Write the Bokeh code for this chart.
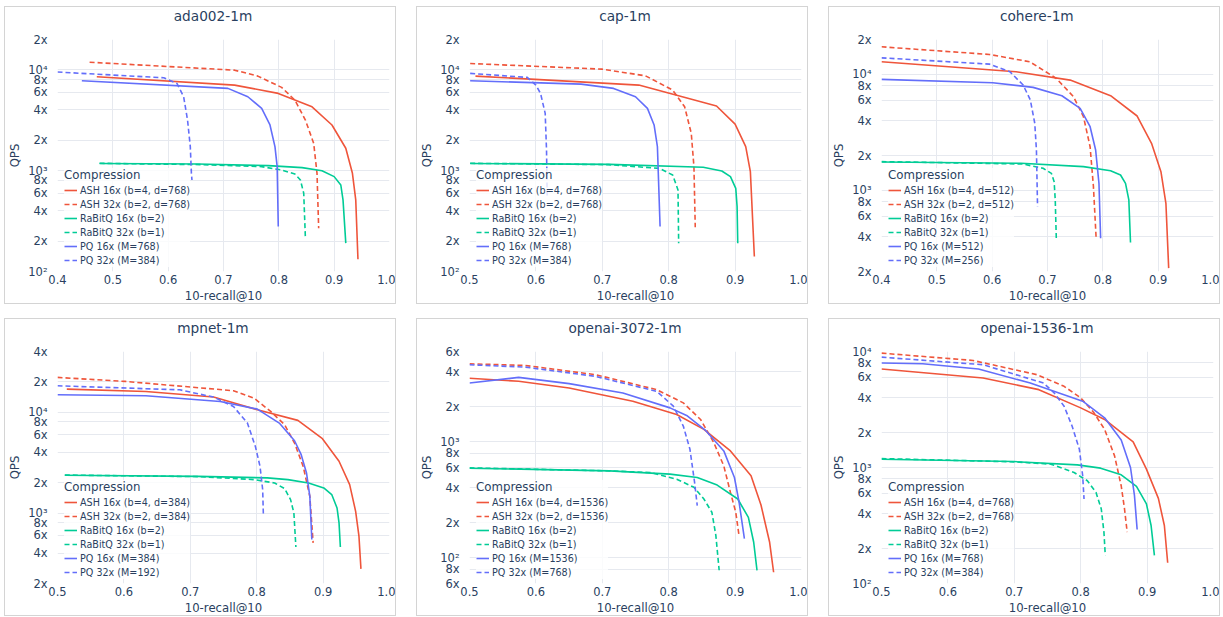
from bokeh.plotting import figure
from bokeh.layouts import row, column
from bokeh.models import Range1d, FixedTicker, CustomJSTickFormatter, PrintfTickFormatter, Title
from bokeh.embed import file_html
from bokeh.resources import INLINE

# ---------------- data ----------------
ADA_ASH16_X = [0.471, 0.72, 0.799, 0.86, 0.896, 0.921, 0.933, 0.939, 0.943]
ADA_ASH16_Y = [8530, 7060, 5840, 4300, 2840, 1670, 942, 513, 132]
ADA_ASH32_X = [0.458, 0.72, 0.762, 0.805, 0.829, 0.848, 0.863, 0.869, 0.872]
ADA_ASH32_Y = [11900, 9930, 8670, 6700, 5010, 3180, 1868, 942, 268]
ADA_RBQ16_X = [0.476, 0.653, 0.781, 0.842, 0.878, 0.9, 0.912, 0.916, 0.921]
ADA_RBQ16_Y = [1180, 1164, 1122, 1072, 1000, 873, 721, 513, 191]
ADA_RBQ32_X = [0.476, 0.659, 0.769, 0.805, 0.829, 0.839, 0.845, 0.848]
ADA_RBQ32_Y = [1183, 1148, 1097, 1016, 927, 809, 597, 214]
ADA_PQ16_X = [0.444, 0.708, 0.744, 0.769, 0.784, 0.793, 0.797, 0.799]
ADA_PQ16_Y = [7800, 6550, 5410, 4150, 2840, 1730, 1097, 279]
ADA_PQ32_X = [0.4, 0.592, 0.616, 0.628, 0.635, 0.64, 0.642, 0.643]
ADA_PQ32_Y = [9510, 8340, 7320, 5410, 3180, 1730, 942, 809]

CAP_ASH16_X = [0.509, 0.755, 0.872, 0.9, 0.916, 0.923, 0.929]
CAP_ASH16_Y = [8670, 7060, 4380, 2900, 1730, 978, 141]
CAP_ASH32_X = [0.501, 0.699, 0.765, 0.806, 0.824, 0.834, 0.838, 0.84]
CAP_ASH32_Y = [11560, 10170, 8730, 6300, 4300, 2345, 1097, 275]
CAP_RBQ16_X = [0.501, 0.711, 0.852, 0.88, 0.893, 0.901, 0.903, 0.904]
CAP_RBQ16_Y = [1180, 1156, 1080, 993, 873, 668, 440, 191]
CAP_RBQ32_X = [0.501, 0.709, 0.786, 0.806, 0.814, 0.815]
CAP_RBQ32_Y = [1183, 1148, 1054, 906, 644, 191]
CAP_PQ16_X = [0.501, 0.668, 0.717, 0.75, 0.768, 0.778, 0.783, 0.787]
CAP_PQ16_Y = [7800, 7220, 6550, 5410, 4150, 2840, 1730, 279]
CAP_PQ32_X = [0.501, 0.587, 0.6, 0.607, 0.614, 0.616, 0.617]
CAP_PQ32_Y = [9220, 8420, 7060, 5840, 3700, 1603, 553]

COH_ASH16_X = [0.4, 0.643, 0.741, 0.814, 0.862, 0.888, 0.905, 0.914, 0.919]
COH_ASH16_Y = [12850, 10550, 8930, 6550, 4380, 2550, 1452, 774, 214]
COH_ASH32_X = [0.4, 0.595, 0.668, 0.716, 0.747, 0.765, 0.777, 0.783, 0.788]
COH_ASH32_Y = [17300, 14860, 12850, 9230, 6430, 4320, 2380, 1080, 379]
COH_RBQ16_X = [0.4, 0.652, 0.765, 0.814, 0.832, 0.841, 0.847, 0.85]
COH_RBQ16_Y = [1760, 1714, 1603, 1480, 1358, 1151, 828, 356]
COH_RBQ32_X = [0.4, 0.655, 0.692, 0.707, 0.712, 0.714, 0.716]
COH_RBQ32_Y = [1771, 1690, 1552, 1404, 1190, 828, 370]
COH_PQ16_X = [0.4, 0.601, 0.674, 0.726, 0.759, 0.777, 0.787, 0.793, 0.796]
COH_PQ16_Y = [9060, 8480, 7730, 6550, 5100, 3540, 2230, 1151, 387]
COH_PQ32_X = [0.4, 0.595, 0.632, 0.656, 0.669, 0.677, 0.68, 0.682]
COH_PQ32_Y = [13900, 12270, 10550, 8100, 6010, 3790, 2230, 726]

MPN_ASH16_X = [0.514, 0.633, 0.735, 0.801, 0.862, 0.899, 0.924, 0.94, 0.949, 0.954, 0.957]
MPN_ASH16_Y = [16940, 16070, 14130, 10560, 8300, 5460, 3260, 1914, 1040, 589, 279]
MPN_ASH32_X = [0.5, 0.602, 0.765, 0.796, 0.821, 0.842, 0.857, 0.87, 0.88, 0.885]
MPN_ASH32_Y = [22130, 20200, 16330, 13800, 10180, 7520, 4940, 2900, 1466, 506]
MPN_RBQ16_X = [0.511, 0.712, 0.816, 0.847, 0.878, 0.901, 0.913, 0.921, 0.924, 0.926]
MPN_RBQ16_Y = [2370, 2310, 2230, 2145, 1985, 1773, 1524, 1122, 798, 461]
MPN_RBQ32_X = [0.511, 0.714, 0.796, 0.827, 0.842, 0.851, 0.856, 0.859]
MPN_RBQ32_Y = [2380, 2295, 2145, 1985, 1746, 1358, 1002, 461]
MPN_PQ16_X = [0.5, 0.633, 0.745, 0.801, 0.834, 0.857, 0.867, 0.875, 0.88, 0.883]
MPN_PQ16_Y = [14890, 14560, 12790, 10730, 7800, 5210, 3790, 2500, 1466, 546]
MPN_PQ32_X = [0.5, 0.684, 0.735, 0.765, 0.786, 0.798, 0.805, 0.809, 0.81]
MPN_PQ32_Y = [18280, 16680, 14130, 11400, 7800, 4580, 2900, 1706, 986]

O3K_ASH16_X = [0.5, 0.574, 0.65, 0.746, 0.812, 0.853, 0.893, 0.924, 0.939, 0.952, 0.958]
O3K_ASH16_Y = [3525, 3320, 2910, 2235, 1718, 1279, 834, 509, 285, 136, 75]
O3K_ASH32_X = [0.5, 0.584, 0.69, 0.782, 0.822, 0.848, 0.868, 0.883, 0.893, 0.901, 0.906]
O3K_ASH32_Y = [4700, 4550, 3785, 2812, 2163, 1556, 981, 619, 366, 247, 154]
O3K_RBQ16_X = [0.5, 0.711, 0.802, 0.843, 0.873, 0.904, 0.92, 0.928, 0.933]
O3K_RBQ16_Y = [592, 561, 526, 492, 423, 321, 223, 136, 78]
O3K_RBQ32_X = [0.5, 0.711, 0.772, 0.812, 0.838, 0.853, 0.865, 0.871, 0.876]
O3K_RBQ32_Y = [596, 561, 543, 476, 405, 321, 247, 156, 78]
O3K_PQ16_X = [0.5, 0.574, 0.65, 0.731, 0.802, 0.827, 0.855, 0.883, 0.899, 0.906, 0.914]
O3K_PQ16_Y = [3213, 3590, 3170, 2636, 1960, 1686, 1262, 834, 492, 301, 146]
O3K_PQ32_X = [0.5, 0.584, 0.69, 0.782, 0.807, 0.822, 0.832, 0.839, 0.843]
O3K_PQ32_Y = [4610, 4400, 3660, 2722, 2028, 1365, 861, 446, 281]

O15_ASH16_X = [0.5, 0.653, 0.737, 0.8, 0.836, 0.879, 0.899, 0.917, 0.926, 0.931]
O15_ASH16_Y = [7060, 5905, 4690, 3266, 2596, 1660, 968, 542, 316, 151]
O15_ASH32_X = [0.5, 0.638, 0.734, 0.775, 0.8, 0.82, 0.836, 0.851, 0.861, 0.866, 0.87]
O15_ASH32_Y = [9680, 8370, 6310, 5010, 3980, 2960, 2130, 1259, 696, 439, 277]
O15_RBQ16_X = [0.5, 0.699, 0.795, 0.83, 0.861, 0.884, 0.899, 0.906, 0.911]
O15_RBQ16_Y = [1179, 1125, 1054, 987, 865, 687, 485, 316, 175]
O15_RBQ32_X = [0.5, 0.699, 0.755, 0.79, 0.81, 0.823, 0.831, 0.835, 0.837]
O15_RBQ32_Y = [1194, 1119, 1069, 906, 769, 611, 439, 277, 175]
O15_PQ16_X = [0.5, 0.562, 0.646, 0.724, 0.803, 0.836, 0.861, 0.875, 0.881, 0.885]
O15_PQ16_Y = [7950, 7840, 7060, 5350, 3728, 2683, 1726, 1000, 571, 292]
O15_PQ32_X = [0.5, 0.653, 0.744, 0.76, 0.775, 0.787, 0.798, 0.803, 0.805]
O15_PQ32_Y = [8940, 7690, 5350, 4400, 3378, 2276, 1436, 849, 535]

TITLES = ["ada002-1m", "cap-1m", "cohere-1m", "mpnet-1m", "openai-3072-1m", "openai-1536-1m"]

LABELS_768 = ["ASH 16x (b=4, d=768)", "ASH 32x (b=2, d=768)", "RaBitQ 16x (b=2)",
              "RaBitQ 32x (b=1)", "PQ 16x (M=768)", "PQ 32x (M=384)"]
LABELS_512 = ["ASH 16x (b=4, d=512)", "ASH 32x (b=2, d=512)", "RaBitQ 16x (b=2)",
              "RaBitQ 32x (b=1)", "PQ 16x (M=512)", "PQ 32x (M=256)"]
LABELS_384 = ["ASH 16x (b=4, d=384)", "ASH 32x (b=2, d=384)", "RaBitQ 16x (b=2)",
              "RaBitQ 32x (b=1)", "PQ 16x (M=384)", "PQ 32x (M=192)"]
LABELS_1536 = ["ASH 16x (b=4, d=1536)", "ASH 32x (b=2, d=1536)", "RaBitQ 16x (b=2)",
               "RaBitQ 32x (b=1)", "PQ 16x (M=1536)", "PQ 32x (M=768)"]

X_TICKS_04 = [0.4, 0.5, 0.6, 0.7, 0.8, 0.9, 1.0]
X_TICKS_05 = [0.5, 0.6, 0.7, 0.8, 0.9, 1.0]
Y_TICKS_ADA = [100, 200, 400, 600, 800, 1000, 2000, 4000, 6000, 8000, 10000, 20000]
Y_TICKS_COH = [200, 400, 600, 800, 1000, 2000, 4000, 6000, 8000, 10000, 20000]
Y_TICKS_MPN = [200, 400, 600, 800, 1000, 2000, 4000, 6000, 8000, 10000, 20000, 40000]
Y_TICKS_O3K = [60, 80, 100, 200, 400, 600, 800, 1000, 2000, 4000, 6000]
Y_TICKS_O15 = [100, 200, 400, 600, 800, 1000, 2000, 4000, 6000, 8000, 10000]

X_RANGES = [(0.4, 1.0), (0.5, 1.0), (0.4, 1.0), (0.5, 1.0), (0.5, 1.0), (0.5, 1.0)]
Y_RANGES = [(100, 20000), (100, 20000), (200, 20000), (200, 40000), (60, 6000), (100, 10000)]

# ---------------- style ----------------
FONT = "DejaVu Sans"
TXT = "#2a3f5f"
GRID = "#e6e9ef"
STYLES = [("#EF553B", "solid"), ("#EF553B", "5 3"), ("#00CC96", "solid"),
          ("#00CC96", "5 3"), ("#636EFA", "solid"), ("#636EFA", "5 3")]

FIG_W, FIG_H = 392, 298
TITLE_PX = 13.7
# approximate DejaVu Sans advance widths (em) used to place titles
ADV = {"a": .613, "d": .635, "c": .55, "p": .635, "o": .612, "h": .634, "e": .615,
       "r": .411, "m": .974, "n": .634, "t": .392, "i": .278, "-": .361}

LOG_FMT = CustomJSTickFormatter(code="""
const sup = {"1":"\u00b9","2":"\u00b2","3":"\u00b3","4":"\u2074","5":"\u2075"};
const e = Math.floor(Math.log10(tick) + 1e-9);
const m = Math.round(tick / Math.pow(10, e));
if (m === 1) { return "10" + sup[String(e)]; }
return m + "x";
""")


def text_w(s, size):
    return sum(ADV.get(ch, 0.636) for ch in s) * size


def make_panel(title, xr, yr, xticks, yticks, series, labels):
    p = figure(width=FIG_W, height=FIG_H, y_axis_type="log", title=None,
               x_range=Range1d(*xr), y_range=Range1d(*yr),
               output_backend="svg", toolbar_location=None,
               min_border_left=47, min_border_right=8,
               min_border_top=32, min_border_bottom=31)
    p.styles = {"border": "1px solid #d4d4d4"}
    p.outline_line_color = None
    p.background_fill_color = "white"

    # spacer (nearest the frame) + real title above it
    p.add_layout(Title(text=" ", text_font_size="2px", standoff=10), "above")
    p.add_layout(Title(text=title, align="left", vertical_align="top", standoff=0,
                       offset=155.5 - text_w(title, TITLE_PX) / 2,
                       text_font=FONT, text_font_size=f"{TITLE_PX}px",
                       text_font_style="normal", text_color=TXT), "above")

    for (xs, ys), (col, dash), lab in zip(series, STYLES, labels):
        p.line(xs, ys, line_color=col, line_dash=dash, line_width=1.6, legend_label=lab)

    p.xaxis.ticker = FixedTicker(ticks=xticks)
    p.xgrid.ticker = FixedTicker(ticks=xticks)
    p.xaxis.formatter = PrintfTickFormatter(format="%.1f")
    p.yaxis.ticker = FixedTicker(ticks=yticks)
    p.ygrid.ticker = FixedTicker(ticks=yticks)
    p.yaxis.formatter = LOG_FMT
    p.xaxis.axis_label = "10-recall@10"
    p.yaxis.axis_label = "QPS"
    for ax in (p.xaxis[0], p.yaxis[0]):
        ax.axis_line_color = None
        ax.major_tick_line_color = None
        ax.minor_tick_line_color = None
        ax.major_tick_out = 0
        ax.major_tick_in = 0
        ax.minor_tick_out = 0
        ax.minor_tick_in = 0
        ax.major_label_text_font = FONT
        ax.major_label_text_font_size = "11.5px"
        ax.major_label_text_color = TXT
        ax.axis_label_text_font = FONT
        ax.axis_label_text_font_size = "11.7px"
        ax.axis_label_text_font_style = "normal"
        ax.axis_label_text_color = TXT
    p.xaxis.major_label_standoff = 3
    p.xaxis.axis_label_standoff = 2
    p.yaxis.major_label_standoff = 10
    p.yaxis.axis_label_standoff = 3
    for g in (p.xgrid[0], p.ygrid[0]):
        g.grid_line_color = GRID
        g.grid_line_width = 1

    lg = p.legend[0]
    lg.location = (7, 4)
    lg.title = "Compression"
    lg.title_text_font = FONT
    lg.title_text_font_size = "11.8px"
    lg.title_text_font_style = "normal"
    lg.title_text_color = TXT
    lg.title_standoff = 1
    lg.label_text_font = FONT
    lg.label_text_font_size = "9.6px"
    lg.label_text_color = TXT
    lg.glyph_width = 13
    lg.glyph_height = 14
    lg.label_height = 14
    lg.label_standoff = 3
    lg.spacing = 0
    lg.padding = 5
    lg.margin = 0
    lg.border_line_color = None
    lg.background_fill_color = "white"
    lg.background_fill_alpha = 0.8
    return p


PANELS = [
    (TITLES[0], X_RANGES[0], Y_RANGES[0], X_TICKS_04, Y_TICKS_ADA,
     [(ADA_ASH16_X, ADA_ASH16_Y), (ADA_ASH32_X, ADA_ASH32_Y), (ADA_RBQ16_X, ADA_RBQ16_Y),
      (ADA_RBQ32_X, ADA_RBQ32_Y), (ADA_PQ16_X, ADA_PQ16_Y), (ADA_PQ32_X, ADA_PQ32_Y)], LABELS_768),
    (TITLES[1], X_RANGES[1], Y_RANGES[1], X_TICKS_05, Y_TICKS_ADA,
     [(CAP_ASH16_X, CAP_ASH16_Y), (CAP_ASH32_X, CAP_ASH32_Y), (CAP_RBQ16_X, CAP_RBQ16_Y),
      (CAP_RBQ32_X, CAP_RBQ32_Y), (CAP_PQ16_X, CAP_PQ16_Y), (CAP_PQ32_X, CAP_PQ32_Y)], LABELS_768),
    (TITLES[2], X_RANGES[2], Y_RANGES[2], X_TICKS_04, Y_TICKS_COH,
     [(COH_ASH16_X, COH_ASH16_Y), (COH_ASH32_X, COH_ASH32_Y), (COH_RBQ16_X, COH_RBQ16_Y),
      (COH_RBQ32_X, COH_RBQ32_Y), (COH_PQ16_X, COH_PQ16_Y), (COH_PQ32_X, COH_PQ32_Y)], LABELS_512),
    (TITLES[3], X_RANGES[3], Y_RANGES[3], X_TICKS_05, Y_TICKS_MPN,
     [(MPN_ASH16_X, MPN_ASH16_Y), (MPN_ASH32_X, MPN_ASH32_Y), (MPN_RBQ16_X, MPN_RBQ16_Y),
      (MPN_RBQ32_X, MPN_RBQ32_Y), (MPN_PQ16_X, MPN_PQ16_Y), (MPN_PQ32_X, MPN_PQ32_Y)], LABELS_384),
    (TITLES[4], X_RANGES[4], Y_RANGES[4], X_TICKS_05, Y_TICKS_O3K,
     [(O3K_ASH16_X, O3K_ASH16_Y), (O3K_ASH32_X, O3K_ASH32_Y), (O3K_RBQ16_X, O3K_RBQ16_Y),
      (O3K_RBQ32_X, O3K_RBQ32_Y), (O3K_PQ16_X, O3K_PQ16_Y), (O3K_PQ32_X, O3K_PQ32_Y)], LABELS_1536),
    (TITLES[5], X_RANGES[5], Y_RANGES[5], X_TICKS_05, Y_TICKS_O15,
     [(O15_ASH16_X, O15_ASH16_Y), (O15_ASH32_X, O15_ASH32_Y), (O15_RBQ16_X, O15_RBQ16_Y),
      (O15_RBQ32_X, O15_RBQ32_Y), (O15_PQ16_X, O15_PQ16_Y), (O15_PQ32_X, O15_PQ32_Y)], LABELS_768),
]

figs = [make_panel(*args) for args in PANELS]
layout = column(row(figs[0], figs[1], figs[2], spacing=20),
                row(figs[3], figs[4], figs[5], spacing=20),
                spacing=14, margin=(6, 0, 0, 4))

open("out.html", "w").write(file_html(layout, INLINE))
